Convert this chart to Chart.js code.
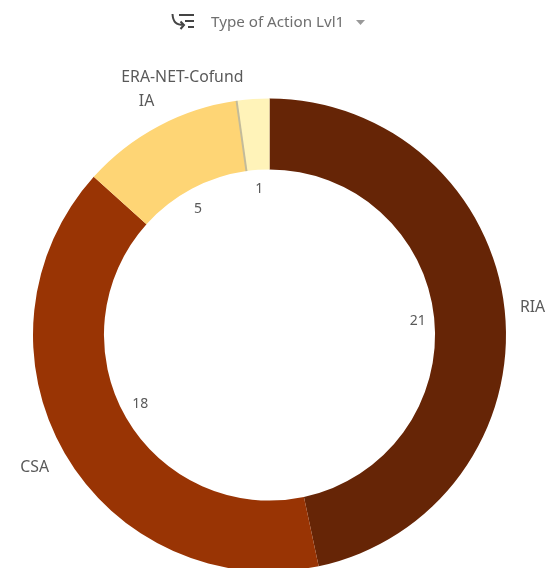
<!DOCTYPE html>
<html><head><meta charset="utf-8">
<style>
html,body{margin:0;padding:0;background:#fff;overflow:hidden;width:547px;height:568px}
#wrap{position:absolute;left:0;top:0;width:547px;height:620px}
#hdr{position:absolute;left:0;top:0;width:547px;height:40px;z-index:2;font:15.2px "Noto Sans",sans-serif;color:#6f6f6f}
#hdr span{position:absolute;left:211px;top:11px;line-height:20px;white-space:nowrap}
#hdr svg{position:absolute;left:170px;top:10px}
</style></head><body>
<div id="wrap"><canvas id="c" width="547" height="620"></canvas></div>
<div id="hdr">
<svg width="200" height="24" viewBox="0 0 200 24" fill="none">
<path d="M2.5 4 C3 12 6 15 14 15 M10.5 11.5 L14 15 L10.5 19" stroke="#444" stroke-width="2"/>
<path d="M9 5H24M15 11H24M18 17H24" stroke="#444" stroke-width="2"/>
<path d="M186 10h9l-4.5 5z" fill="#999"/>
</svg>
<span>Type of Action Lvl1</span></div>
<script src="https://cdn.jsdelivr.net/npm/chart.js@4"></script>
<script>
const categories = ["RIA","CSA","IA","ERA-NET-Cofund"];
const values = [21,18,5,1];
const colors = ["#662506","#993404","#fed575","#fff3b9"];

const NAME_FONT = '15.8px "Noto Sans", sans-serif';
const VALUE_FONT = '14px "Noto Sans", sans-serif';
const labelSpec = [
  {r:264,align:"center",dy:0,dx:0.5},
  {r:270,align:"center",dy:-3,dx:-1},
  {r:262,align:"center",dy:-2,dx:0},
  {r:260,align:"right",dy:2,dx:-8}
];
const valueNudge = [[1,1],[-1,-5],[-2,5],[0,2]];
const ringLabels = {
  id:"ringLabels",
  afterDatasetsDraw(chart){
    const ctx = chart.ctx, arcs = chart.getDatasetMeta(0).data;
    ctx.save();
    ctx.textBaseline = "middle";
    const seam = arcs[3].startAngle, a0 = arcs[3];
    ctx.strokeStyle = "#c3bb9a"; ctx.lineWidth = 2;
    ctx.beginPath();
    ctx.moveTo(a0.x+Math.cos(seam)*a0.innerRadius, a0.y+Math.sin(seam)*a0.innerRadius);
    ctx.lineTo(a0.x+Math.cos(seam)*a0.outerRadius, a0.y+Math.sin(seam)*a0.outerRadius);
    ctx.stroke();
    arcs.forEach((a,i)=>{
      const mid = (a.startAngle+a.endAngle)/2, c=Math.cos(mid), s=Math.sin(mid);
      const sp = labelSpec[i];
      ctx.fillStyle = "#595959";
      ctx.font = VALUE_FONT;
      ctx.textAlign = "center";
      ctx.fillText(String(values[i]), a.x+c*148+valueNudge[i][0], a.y+s*148+valueNudge[i][1]);
      ctx.font = NAME_FONT;
      ctx.textAlign = sp.align;
      ctx.fillText(categories[i], a.x+c*sp.r+sp.dx, a.y+s*sp.r+sp.dy);
    });
    ctx.restore();
  }
};
new Chart(document.getElementById("c"),{
  type:"doughnut",
  data:{labels:categories,datasets:[{data:values,backgroundColor:colors,borderWidth:0}]},
  options:{
    responsive:false,animation:false,cutout:"70%",rotation:0,
    layout:{padding:{left:33,right:41,top:98.5,bottom:48.5}},
    plugins:{legend:{display:false},tooltip:{enabled:false}}
  },
  plugins:[ringLabels]
});
</script>
</body></html>
